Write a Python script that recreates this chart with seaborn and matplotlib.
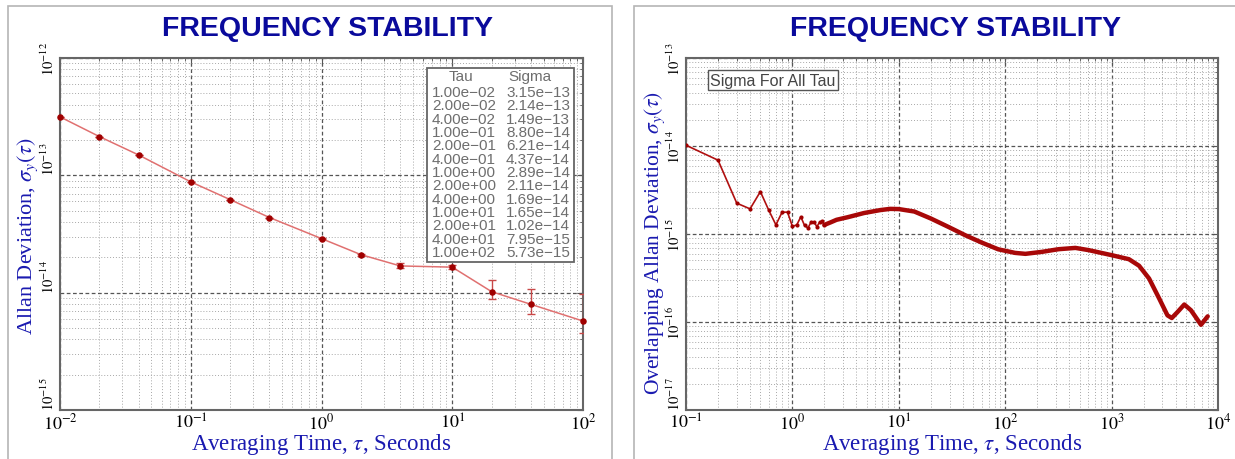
import numpy as np
import pandas as pd
import matplotlib
matplotlib.use("Agg")
import matplotlib.pyplot as plt
import seaborn as sns
from matplotlib.ticker import LogLocator, NullFormatter, FuncFormatter, FixedLocator
from matplotlib.patches import Rectangle

# ---------------- data ----------------
tau_left = [1e-2, 2e-2, 4e-2, 1e-1, 2e-1, 4e-1, 1e0, 2e0, 4e0, 1e1, 2e1, 4e1, 1e2]
sigma_left = [3.15e-13, 2.14e-13, 1.49e-13, 8.80e-14, 6.21e-14, 4.37e-14, 2.89e-14,
              2.11e-14, 1.69e-14, 1.65e-14, 1.02e-14, 7.95e-15, 5.73e-15]
err_lo_left = [0, 0, 0, 0, 0, 0, 0.2e-15, 0.4e-15, 0.6e-15, 0.5e-15, 1.4e-15, 1.4e-15, 1.2e-15]
err_hi_left = [0, 0, 0, 0, 0, 0, 0.2e-15, 0.4e-15, 1.1e-15, 0.8e-15, 2.6e-15, 2.7e-15, 4.0e-15]

tau_right_sparse = [0.1, 0.2, 0.3, 0.4, 0.5, 0.6, 0.7, 0.8, 0.9, 1.0,
                    1.1, 1.2, 1.3, 1.4, 1.5, 1.6, 1.7, 1.8, 1.9, 2.0]
sigma_right_sparse = [1.02e-14, 6.9e-15, 2.24e-15, 1.93e-15, 3.03e-15, 1.86e-15, 1.27e-15,
                      1.77e-15, 1.77e-15, 1.22e-15, 1.27e-15, 1.57e-15, 1.25e-15, 1.17e-15,
                      1.37e-15, 1.36e-15, 1.21e-15, 1.36e-15, 1.39e-15, 1.27e-15]
tau_right_dense = [2.0, 2.3, 2.6, 3.3, 4.7, 6.7, 8.3, 10, 14, 20, 29, 42, 60, 86, 124, 155,
                   222, 318, 457, 611, 1000, 1456, 1811, 2250, 2800, 3350, 3680, 4170,
                   4820, 5570, 6920, 8000]
sigma_right_dense = [1.27e-15, 1.36e-15, 1.45e-15, 1.55e-15, 1.73e-15, 1.87e-15, 1.93e-15,
                     1.92e-15, 1.80e-15, 1.50e-15, 1.21e-15, 9.7e-16, 8.0e-16, 6.7e-16,
                     6.1e-16, 5.95e-16, 6.27e-16, 6.72e-16, 6.95e-16, 6.55e-16, 5.75e-16,
                     5.17e-16, 4.36e-16, 3.12e-16, 1.85e-16, 1.19e-16, 1.11e-16, 1.30e-16,
                     1.58e-16, 1.36e-16, 9.3e-17, 1.16e-16]

left_xdecades = [-2, -1, 0, 1, 2]
left_ydecades = [-15, -14, -13, -12]
right_xdecades = [-1, 0, 1, 2, 3, 4]
right_ydecades = [-17, -16, -15, -14, -13]

title_text = "FREQUENCY STABILITY"
xlabel_text = r"Averaging Time, $\tau$, Seconds"
ylabel_left = r"Allan Deviation, $\sigma_y(\tau)$"
ylabel_right = r"Overlapping Allan Deviation, $\sigma_y(\tau)$"
legend_right = "Sigma For All Tau"

# ---------------- style ----------------
sns.set_style("white")
plt.rcParams["font.family"] = ["Liberation Serif", "DejaVu Serif"]
plt.rcParams["mathtext.fontset"] = "stix"

BLUE_T = "#0a0a9c"
BLUE_L = "#1a1ab0"
W, H = 1235, 460
fig = plt.figure(figsize=(W / 100, H / 100), dpi=100)

def fx(px):
    return px / W

def fy(py):
    return 1 - py / H

# panel frames
for x0, x1 in [(8, 612), (634, 1245)]:
    fig.patches.append(Rectangle((fx(x0), fy(470)), fx(x1 - x0), (470 - 7) / H,
                                 transform=fig.transFigure, fill=False,
                                 edgecolor="#b5b5b5", lw=1.2))

L1, R1, L2, R2, T, B = 60, 583, 686, 1218, 59, 411
ax1 = fig.add_axes([fx(L1), fy(B), fx(R1 - L1), (B - T) / H])
ax2 = fig.add_axes([fx(L2), fy(B), fx(R2 - L2), (B - T) / H])

pow_fmt = FuncFormatter(lambda v, p: r"$10^{%d}$" % int(np.round(np.log10(v))))

def style_axes(ax, xdec, ydec):
    ax.set_xscale("log")
    ax.set_yscale("log")
    ax.set_xlim(10.0 ** xdec[0], 10.0 ** xdec[-1])
    ax.set_ylim(10.0 ** ydec[0], 10.0 ** ydec[-1])
    ax.xaxis.set_major_locator(FixedLocator([10.0 ** d for d in xdec]))
    ax.yaxis.set_major_locator(FixedLocator([10.0 ** d for d in ydec]))
    ax.xaxis.set_minor_locator(LogLocator(base=10, subs=np.arange(2, 10), numticks=40))
    ax.yaxis.set_minor_locator(LogLocator(base=10, subs=np.arange(2, 10), numticks=40))
    ax.xaxis.set_major_formatter(pow_fmt)
    ax.yaxis.set_major_formatter(pow_fmt)
    ax.xaxis.set_minor_formatter(NullFormatter())
    ax.yaxis.set_minor_formatter(NullFormatter())
    ax.grid(which="major", ls=(0, (3, 2)), color="#555555", lw=0.9)
    ax.grid(which="minor", ls=(0, (1, 2)), color="#a8a8a8", lw=0.7)
    ax.tick_params(which="both", direction="in", top=True, right=True, colors="#555555",
                   labelcolor="black")
    ax.tick_params(axis="x", which="major", length=4, labelsize=13, pad=2)
    ax.tick_params(axis="y", which="major", length=4, labelsize=10.5, pad=2)
    ax.tick_params(which="minor", length=2)
    for s in ax.spines.values():
        s.set_color("#666666")
        s.set_linewidth(1.5)

def set_xlab(ax):
    ax.set_xlabel(xlabel_text, fontsize=16.5, color=BLUE_L)
    ax.xaxis.set_label_coords(0.5, -(445 - B) / (B - T))
    ax.xaxis.label.set_va("center")

# ---------------- left panel ----------------
style_axes(ax1, left_xdecades, left_ydecades)
dfl = pd.DataFrame({"tau": tau_left, "sigma": sigma_left})
sns.lineplot(data=dfl, x="tau", y="sigma", ax=ax1, color="#e07070", lw=1.1,
             estimator=None, sort=False)
ax1.errorbar(tau_left, sigma_left, yerr=[err_lo_left, err_hi_left], fmt="none",
             ecolor="#c84848", elinewidth=1.0, capsize=3, capthick=1.0, zorder=3)
sns.scatterplot(data=dfl, x="tau", y="sigma", ax=ax1, color="#a00000", s=22,
                edgecolor="#a00000", linewidth=0, zorder=4, clip_on=False)
set_xlab(ax1)
ax1.set_ylabel(ylabel_left, fontsize=16, color=BLUE_L)
ax1.yaxis.set_label_coords(-(L1 - 28) / (R1 - L1), 1 - (236 - T) / (B - T))
ax1.yaxis.label.set_va("center")

# table box
ax_tr = ax1.transAxes
def axx(px):
    return (px - L1) / (R1 - L1)
def axy(py):
    return 1 - (py - T) / (B - T)
ax1.add_patch(Rectangle((axx(427), axy(263)), axx(574) - axx(427), axy(69) - axy(263),
                        transform=ax_tr, facecolor="white", edgecolor="#666666",
                        lw=1.3, zorder=5))
tfont = dict(family=["Liberation Sans Narrow", "Liberation Sans", "DejaVu Sans"],
             fontsize=11, color="#6e6e6e", transform=ax_tr, zorder=6, va="center")
ax1.text(axx(461), axy(77), "Tau", ha="center", **tfont)
ax1.text(axx(530), axy(77), "Sigma", ha="center", **tfont)
def efmt(v):
    return ("%.2e" % v).replace("-", "\u2212")
for i, (t, s) in enumerate(zip(tau_left, sigma_left)):
    yy = axy(93 + i * 13.33)
    ax1.text(axx(432), yy, efmt(t), ha="left", **tfont)
    ax1.text(axx(506), yy, efmt(s), ha="left", **tfont)

# ---------------- right panel ----------------
style_axes(ax2, right_xdecades, right_ydecades)
dfs = pd.DataFrame({"tau": tau_right_sparse, "sigma": sigma_right_sparse})
dfd = pd.DataFrame({"tau": tau_right_dense, "sigma": sigma_right_dense})
sns.lineplot(data=dfs, x="tau", y="sigma", ax=ax2, color="#b01010", lw=1.2,
             estimator=None, sort=False)
sns.scatterplot(data=dfs, x="tau", y="sigma", ax=ax2, color="#a00000", s=9,
                linewidth=0, zorder=4)
sns.lineplot(data=dfd, x="tau", y="sigma", ax=ax2, color="#a80808", lw=3.2,
             estimator=None, sort=False)
set_xlab(ax2)
ax2.set_ylabel(ylabel_right, fontsize=15.5, color=BLUE_L)
ax2.yaxis.set_label_coords(-(L2 - 655) / (R2 - L2), 1 - (243 - T) / (B - T))
ax2.yaxis.label.set_va("center")
ax2.text(0.046, 0.937, legend_right, transform=ax2.transAxes, ha="left", va="center",
         family=["Liberation Sans", "DejaVu Sans"], fontsize=11.5, color="#444444",
         bbox=dict(boxstyle="square,pad=0.15", facecolor="white", edgecolor="#555555", lw=1.0),
         zorder=6)

# rotate y tick labels
fig.canvas.draw()
for ax, va in ((ax1, "bottom"), (ax2, "center")):
    ticks = ax.yaxis.get_major_ticks()
    for i, tk in enumerate(ticks):
        tk.label1.set_rotation(90)
        tk.label1.set_va(va)
    if va == "bottom":
        ticks[-1].label1.set_va("center")
    else:
        ticks[0].label1.set_va("bottom")

# titles
for cx in (327, 955):
    fig.text(fx(cx), fy(29), title_text, ha="center", va="center", fontsize=20.5,
             fontweight="bold", color=BLUE_T, family=["Liberation Sans", "DejaVu Sans"])

fig.savefig("out.png", dpi=100)
